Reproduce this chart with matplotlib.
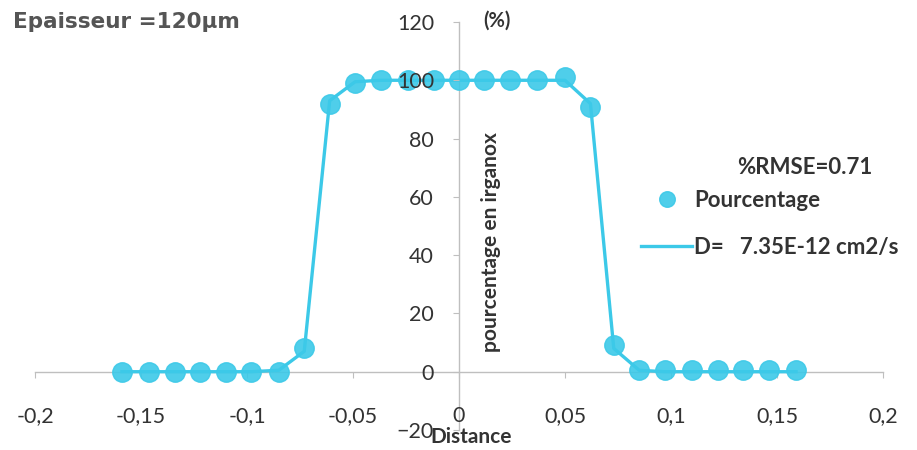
import matplotlib.pyplot as plt

# profil mesure (distance en cm, pourcentage en irganox)
distance = [-0.159, -0.146, -0.134, -0.122, -0.110, -0.098, -0.085, -0.073, -0.061,
            -0.049, -0.037, -0.024, -0.012, 0.000, 0.012, 0.024, 0.037, 0.050,
            0.062, 0.073, 0.085, 0.097, 0.110, 0.122, 0.134, 0.146, 0.159]
pourcentage = [0, 0, 0, 0, 0, 0, 0, 8, 92,
               99, 100, 100, 100, 100, 100, 100, 100, 101,
               91, 9, 0.5, 0.5, 0.5, 0.5, 0.5, 0.5, 0.5]
# courbe du modele de diffusion
modele = [0, 0, 0, 0, 0, 0, 0.5, 7, 93,
          99.5, 100, 100, 100, 100, 100, 100, 100, 100,
          92, 8, 0.5, 0, 0, 0, 0, 0, 0]

xticks = [-0.2, -0.15, -0.1, -0.05, 0, 0.05, 0.1, 0.15, 0.2]
xticklabels = ['-0,2', '-0,15', '-0,1', '-0,05', '0', '0,05', '0,1', '0,15', '0,2']
yticks = [-20, 0, 20, 40, 60, 80, 100, 120]

cyan = '#3cc9e8'
gris = '#bfbfbf'
texte = '#333333'

plt.rcParams['font.family'] = ['Lato', 'DejaVu Sans']

fig = plt.figure(figsize=(9.17, 4.5), dpi=100)
ax = fig.add_axes([35 / 917, 1 - 430 / 450, 848 / 917, 408 / 450])

ax.plot(distance, pourcentage, 'o', color=cyan, markersize=14, alpha=0.9,
        label='Pourcentage', zorder=3)
ax.plot(distance, modele, '-', color=cyan, linewidth=2.4,
        label='D=   7.35E-12 cm2/s', zorder=2)

ax.set_xlim(-0.2, 0.2)
ax.set_ylim(-20, 120)
ax.set_xticks(xticks)
ax.set_xticklabels(xticklabels)
ax.set_yticks(yticks)

for s in ['top', 'right']:
    ax.spines[s].set_visible(False)
ax.spines['left'].set_position(('data', 0))
ax.spines['bottom'].set_position(('data', 0))
for s in ['left', 'bottom']:
    ax.spines[s].set_color(gris)
    ax.spines[s].set_linewidth(1)
    ax.spines[s].set_zorder(1)

ax.tick_params(axis='x', direction='out', length=4, color=gris, pad=21,
               labelsize=15.5, labelcolor=texte)
ax.tick_params(axis='y', direction='out', length=4, color=gris, pad=14,
               labelsize=15.5, labelcolor=texte)
ax.yaxis.set_zorder(5)

fig.text(13 / 917, 1 - 22 / 450, 'Epaisseur =120µm', fontsize=15.5,
         fontweight='heavy', color='#555555', va='center', ha='left',
         family=['DejaVu Sans'])
fig.text(483 / 917, 1 - 21 / 450, '(%)', fontsize=14.5, fontweight='bold',
         color=texte, va='center', ha='left')
fig.text(491 / 917, 1 - 242 / 450, 'pourcentage en irganox', fontsize=15,
         fontweight='bold', color=texte, rotation=90, va='center', ha='center')
fig.text(430 / 917, 1 - 437 / 450, 'Distance', fontsize=15, fontweight='bold',
         color=texte, va='center', ha='left')
fig.text(737 / 917, 1 - 168 / 450, '%RMSE=0.71', fontsize=16,
         fontweight='bold', color=texte, va='center', ha='left')

leg = ax.legend(loc='upper left', bbox_to_anchor=(621 / 917, 1 - 170 / 450),
                bbox_transform=fig.transFigure, frameon=False, fontsize=16,
                handlelength=2.3, handletextpad=0.1, labelspacing=1.15,
                markerscale=0.8)
for t in leg.get_texts():
    t.set_color(texte)
    t.set_fontweight('bold')

fig.savefig('out.png', dpi=100)
